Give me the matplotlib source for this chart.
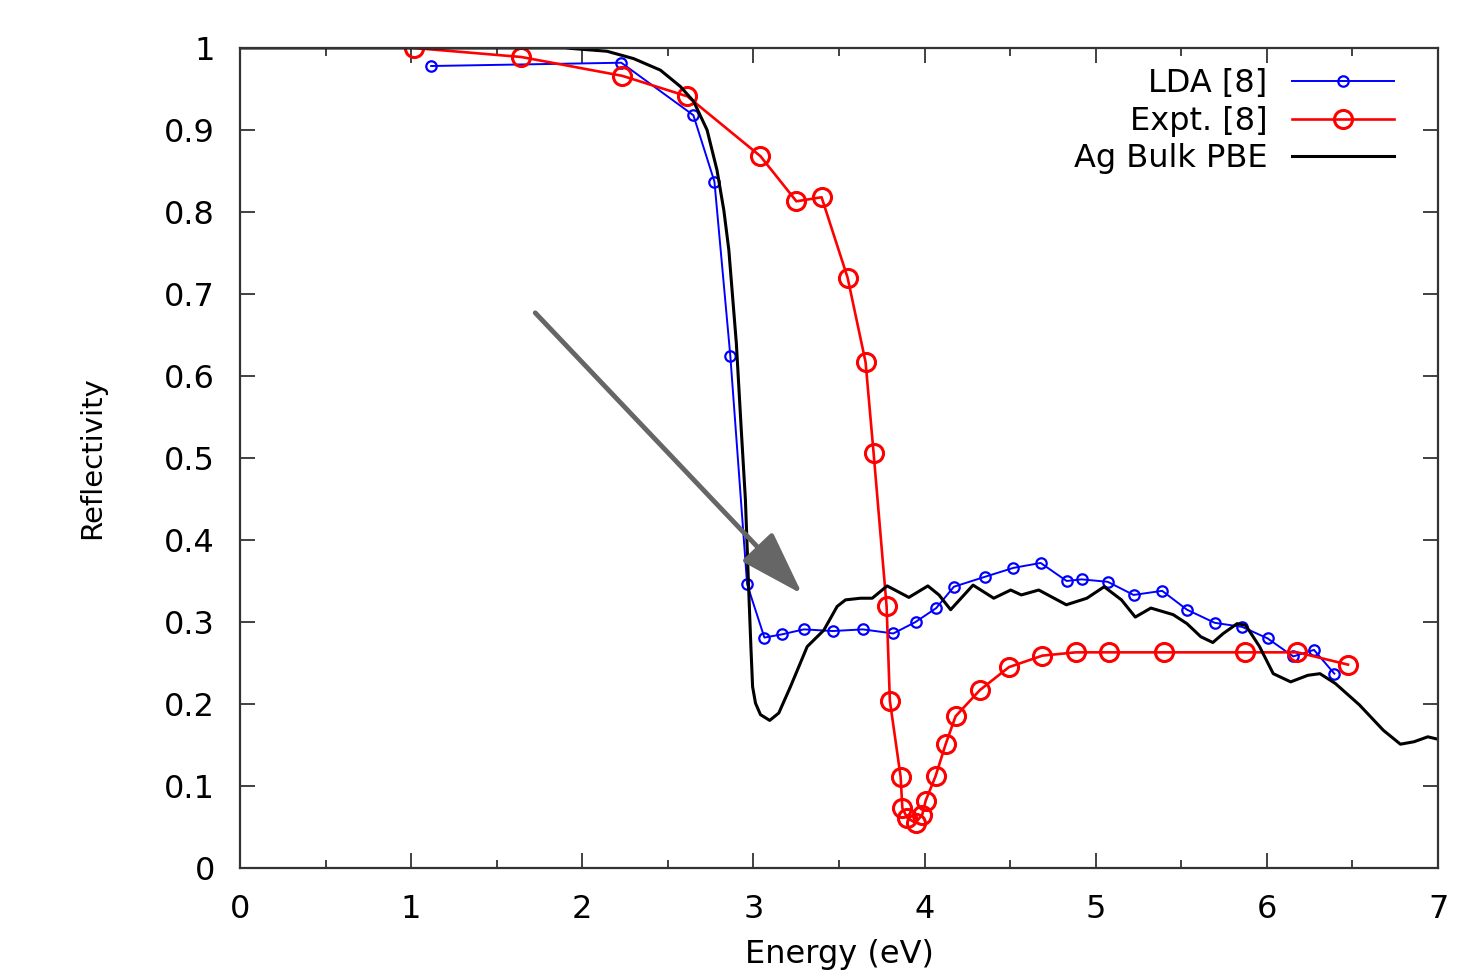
"""
Reflectivity of bulk Ag: PBE vs LDA and experiment
"""

import matplotlib
matplotlib.use('Agg')
import matplotlib.pyplot as plt
from matplotlib.ticker import MultipleLocator

# LDA [8]
lda_energy = [1.117, 2.228, 2.649, 2.772, 2.865, 2.963, 3.064, 3.168, 3.294, 3.464,
              3.639, 3.817, 3.947, 4.068, 4.171, 4.351, 4.519, 4.678, 4.830, 4.917,
              5.070, 5.221, 5.388, 5.533, 5.695, 5.856, 6.004, 6.154, 6.275, 6.394]
lda_refl = [0.978, 0.982, 0.918, 0.837, 0.624, 0.346, 0.281, 0.285, 0.291, 0.289,
            0.291, 0.286, 0.300, 0.317, 0.343, 0.355, 0.366, 0.372, 0.350, 0.352,
            0.349, 0.333, 0.338, 0.315, 0.299, 0.294, 0.280, 0.258, 0.266, 0.237]

# Expt. [8]
expt_energy = [1.018, 1.643, 2.234, 2.614, 3.041, 3.251, 3.398, 3.550, 3.655, 3.702,
               3.778, 3.797, 3.860, 3.870, 3.899, 3.947, 3.986, 4.006, 4.064, 4.123,
               4.181, 4.323, 4.493, 4.688, 4.883, 5.076, 5.398, 5.871, 6.178, 6.474]
expt_refl = [1.000, 0.989, 0.966, 0.941, 0.868, 0.813, 0.818, 0.720, 0.617, 0.506,
             0.319, 0.204, 0.111, 0.073, 0.061, 0.055, 0.065, 0.082, 0.112, 0.151,
             0.185, 0.217, 0.245, 0.259, 0.263, 0.263, 0.263, 0.263, 0.263, 0.248]

# Ag Bulk PBE
pbe_energy = [0.0, 1.0, 1.9, 2.144, 2.30, 2.456, 2.573, 2.65, 2.729, 2.787,
              2.827, 2.856, 2.90, 2.93, 2.953, 2.971, 2.985, 2.995, 3.012, 3.041,
              3.095, 3.148, 3.216, 3.314, 3.411, 3.489, 3.538, 3.626, 3.694, 3.781,
              3.908, 4.019, 4.084, 4.152, 4.283, 4.404, 4.503, 4.565, 4.667, 4.828,
              4.948, 5.049, 5.150, 5.231, 5.322, 5.452, 5.533, 5.614, 5.684, 5.745,
              5.826, 5.876, 5.957, 6.037, 6.139, 6.239, 6.310, 6.400, 6.540, 6.680,
              6.780, 6.860, 6.940, 7.0]
pbe_refl = [1.0, 1.0, 1.0, 0.996, 0.987, 0.973, 0.953, 0.935, 0.900, 0.851,
            0.802, 0.754, 0.640, 0.530, 0.449, 0.346, 0.270, 0.221, 0.201, 0.187,
            0.180, 0.189, 0.221, 0.270, 0.290, 0.319, 0.327, 0.329, 0.329, 0.344,
            0.330, 0.344, 0.333, 0.315, 0.345, 0.329, 0.339, 0.333, 0.339, 0.321,
            0.329, 0.343, 0.327, 0.306, 0.317, 0.309, 0.298, 0.282, 0.275, 0.286,
            0.298, 0.296, 0.270, 0.237, 0.227, 0.235, 0.237, 0.225, 0.199, 0.168,
            0.151, 0.154, 0.160, 0.157]

# arrow pointing at the PBE dip (data coords)
arrow_start = (1.725, 0.677)
arrow_end = (3.285, 0.334)


def ReflectivityPlot():
	plt.rcParams['font.family'] = 'DejaVu Sans'
	fig = plt.figure(figsize=(14.76, 9.73), dpi=100)
	ax = fig.add_axes([0.1626, 0.1079, 0.8117, 0.8428])

	ax.plot(lda_energy, lda_refl, color='#0000ff', lw=1.4, marker='o', ms=7.5,
	        mfc='none', mec='#0000ff', mew=1.6, label='LDA [8]')
	ax.plot(expt_energy, expt_refl, color='#ff0000', lw=1.9, marker='o', ms=13,
	        mfc='none', mec='#ff0000', mew=2.2, label='Expt. [8]')
	ax.plot(pbe_energy, pbe_refl, color='black', lw=2.2, label='Ag Bulk PBE')

	ax.annotate('', xy=arrow_end, xytext=arrow_start,
	            arrowprops=dict(arrowstyle='-|>,head_length=2.0,head_width=0.65',
	                            mutation_scale=20, color='#666666', lw=3.5,
	                            shrinkA=0, shrinkB=0))

	ax.set_xlim(0, 7)
	ax.set_ylim(0, 1)
	ax.xaxis.set_major_locator(MultipleLocator(1))
	ax.xaxis.set_minor_locator(MultipleLocator(0.5))
	ax.set_yticks([0, 0.1, 0.2, 0.3, 0.4, 0.5, 0.6, 0.7, 0.8, 0.9, 1])
	ax.set_yticklabels(['0', '0.1', '0.2', '0.3', '0.4', '0.5', '0.6', '0.7', '0.8', '0.9', '1'])
	ax.tick_params(which='both', direction='in', top=True, right=True,
	               labelsize=23, color='#333333')
	ax.tick_params(which='major', length=11, width=1.3)
	ax.tick_params(which='minor', length=6, width=1.3)
	ax.tick_params(axis='x', pad=19)
	ax.tick_params(axis='y', pad=18)
	for s in ax.spines.values():
		s.set_linewidth(1.6)
		s.set_color('#333333')

	ax.set_xlabel('Energy (eV)', fontsize=23)
	ax.set_ylabel('Reflectivity', fontsize=21)
	# the original is clipped at the bottom; keep it just inside the canvas
	ax.xaxis.set_label_coords(0.5, -0.086)
	ax.yaxis.set_label_coords(-0.112, 0.5)

	ax.legend(loc='upper right', bbox_to_anchor=(0.963, 0.975), frameon=False,
	          markerfirst=False, fontsize=23, handlelength=3.2, handletextpad=0.75,
	          labelspacing=0.2, borderpad=0, borderaxespad=0, numpoints=1)

	fig.savefig('out.png', dpi=100)


if __name__ == '__main__':
	ReflectivityPlot()
